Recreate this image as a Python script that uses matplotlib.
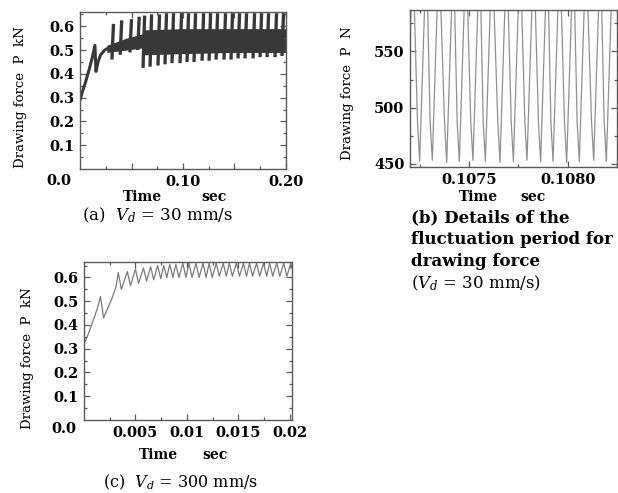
import numpy as np
import matplotlib
matplotlib.use("Agg")
import matplotlib.pyplot as plt
from matplotlib.collections import LineCollection

plt.rcParams['font.family'] = ['DejaVu Serif']
plt.rcParams['mathtext.fontset'] = 'dejavuserif'

# (a) Vd = 30 mm/s : start-up part of the force curve
ramp_t = [0.0, 0.002, 0.005, 0.009, 0.012, 0.0145, 0.0155, 0.0175, 0.020, 0.024, 0.028]
ramp_p = [0.29, 0.32, 0.36, 0.42, 0.47, 0.52, 0.41, 0.45, 0.48, 0.50, 0.51]

# dense high-frequency band (envelope of the fast oscillation)
band_t = [0.026, 0.045, 0.0624, 0.0626, 0.10, 0.15, 0.20]
band_lo = [0.49, 0.50, 0.51, 0.48, 0.485, 0.49, 0.49]
band_hi = [0.52, 0.55, 0.57, 0.585, 0.59, 0.59, 0.59]

# slow saw-tooth excursions
tooth_t = [0.031, 0.039, 0.0485, 0.056, 0.0612, 0.0680, 0.0757, 0.0825, 0.0893,
           0.0971, 0.1039, 0.1107, 0.1185, 0.1253, 0.1321, 0.1398, 0.1466, 0.1534,
           0.1602, 0.1680, 0.1748, 0.1816, 0.1893, 0.1961]
tooth_lo = [0.46, 0.48, 0.49, 0.50, 0.425, 0.43, 0.435, 0.44, 0.445, 0.445, 0.45,
            0.45, 0.455, 0.455, 0.46, 0.46, 0.46, 0.465, 0.465, 0.465, 0.47, 0.47,
            0.47, 0.475]
tooth_hi = [0.61, 0.625, 0.63, 0.64, 0.645, 0.65, 0.65, 0.655, 0.655, 0.655, 0.655,
            0.655, 0.655, 0.655, 0.655, 0.655, 0.655, 0.655, 0.655, 0.655, 0.655,
            0.655, 0.655, 0.655]

# (b) detail of the fluctuation, force in N
b_peak_t = [0.107150, 0.107215, 0.107284, 0.107348, 0.107421, 0.107485, 0.107554,
            0.107617, 0.107691, 0.107759, 0.107828, 0.107897, 0.107960, 0.108029,
            0.108093, 0.108166, 0.108230]
b_kink_t = [0.107170, 0.107239, 0.107303, 0.107376, 0.107440, 0.107509, 0.107572,
            0.107646, 0.107714, 0.107783, 0.107852, 0.107915, 0.107984, 0.108048,
            0.108121, 0.108185]
b_bot_t = [0.107181, 0.107250, 0.107314, 0.107387, 0.107451, 0.107520, 0.107583,
           0.107657, 0.107725, 0.107794, 0.107863, 0.107926, 0.107995, 0.108059,
           0.108132, 0.108196]
b_bot_p = [452, 452, 453, 451, 452, 453, 452, 451, 452, 453, 452, 452, 451, 452, 453, 452]
b_peak_p = 640
b_kink_p = 487

# (c) Vd = 300 mm/s
c_start_t = [0.0, 0.0004, 0.0009, 0.0013, 0.0016, 0.0019, 0.0023, 0.0027, 0.0031]
c_start_p = [0.32, 0.36, 0.42, 0.47, 0.52, 0.43, 0.47, 0.51, 0.56]
c_peak_t = [0.00333, 0.00421, 0.00500, 0.00578, 0.00647, 0.00715, 0.00774, 0.00833,
            0.00892, 0.00960, 0.01019, 0.01088, 0.01156, 0.01215, 0.01284, 0.01352,
            0.01411, 0.01480, 0.01548, 0.01607, 0.01676, 0.01744, 0.01803, 0.01872,
            0.01940, 0.02009]
c_peak_p = [0.62, 0.625, 0.635, 0.64, 0.645, 0.65, 0.65, 0.655, 0.655, 0.66, 0.66,
            0.66, 0.66, 0.66, 0.66, 0.66, 0.66, 0.66, 0.66, 0.66, 0.66, 0.66, 0.66,
            0.66, 0.66, 0.66]
c_trough_t = [0.00363, 0.00451, 0.00530, 0.00608, 0.00677, 0.00745, 0.00804, 0.00863,
              0.00922, 0.00990, 0.01049, 0.01118, 0.01186, 0.01245, 0.01314, 0.01382,
              0.01441, 0.01510, 0.01578, 0.01637, 0.01706, 0.01774, 0.01833, 0.01902,
              0.01970, 0.02039]
c_trough_p = [0.55, 0.565, 0.575, 0.585, 0.59, 0.595, 0.60, 0.60, 0.60, 0.60, 0.60,
              0.60, 0.60, 0.60, 0.605, 0.605, 0.605, 0.605, 0.605, 0.605, 0.605,
              0.605, 0.605, 0.605, 0.605, 0.605]

W, H = 618, 493
fig = plt.figure(figsize=(W / 100, H / 100), dpi=100)


def px_axes(left, top, right, bottom):
    return fig.add_axes([left / W, 1 - bottom / H, (right - left) / W, (bottom - top) / H])


def ftext(x, y, s, **kw):
    fig.text(x / W, 1 - y / H, s, **kw)


def style(ax):
    for sp in ax.spines.values():
        sp.set_color('#5a5a5a')
        sp.set_linewidth(1.0)
    ax.tick_params(which='both', direction='in', top=True, right=True,
                   color='#5a5a5a', labelsize=10.5, pad=4)
    ax.tick_params(which='major', length=4, width=0.9)
    ax.tick_params(which='minor', length=2.5, width=0.9)


dark = '#383838'
tick_fs = 10.5
cap_fs = 12
time_fs = 10

# ---- (a)
ax1 = px_axes(80, 12, 286, 169)
ax1.fill_between(band_t, band_lo, band_hi, color=dark, lw=0)
segs = [[(t, lo), (t + 0.0015, hi)] for t, lo, hi in zip(tooth_t, tooth_lo, tooth_hi)]
ax1.add_collection(LineCollection(segs, colors=dark, linewidths=2.4))
ax1.plot(ramp_t, ramp_p, color=dark, lw=2.2)
ax1.set_xlim(0, 0.2)
ax1.set_ylim(0, 0.66)
ax1.set_xticks([0.05, 0.10, 0.15, 0.20], labels=['', '0.10', '', '0.20'], fontweight='bold')
ax1.set_xticks(np.arange(0.025, 0.2, 0.05), minor=True)
ax1.set_yticks([0.1, 0.2, 0.3, 0.4, 0.5, 0.6],
               labels=['0.1', '0.2', '0.3', '0.4', '0.5', '0.6'], fontweight='bold')
ax1.set_yticks([0.05, 0.15, 0.25, 0.35, 0.45, 0.55, 0.65], minor=True)
style(ax1)
ftext(59, 181, '0.0', fontsize=tick_fs, fontweight='bold', ha='center', va='center')
ftext(21, 97, 'Drawing force  P  kN', fontsize=9.5, rotation=90, ha='center', va='center')
ftext(142, 197, 'Time', fontsize=time_fs, fontweight='bold', ha='center', va='center')
ftext(214, 197, 'sec', fontsize=time_fs, fontweight='bold', ha='center', va='center')
ftext(158, 215, '(a)  $V_d$ = 30 mm/s', fontsize=cap_fs, ha='center', va='center')

# ---- (b)
ax2 = px_axes(410, 10, 617, 167)
b_t = [b_peak_t[0]]
b_p = [b_peak_p]
for k in range(len(b_bot_t)):
    b_t += [b_kink_t[k], b_bot_t[k], b_peak_t[k + 1]]
    b_p += [b_kink_p, b_bot_p[k], b_peak_p]
ax2.plot(b_t, b_p, color='#909090', lw=0.9)
ax2.set_xlim(0.107201, 0.108216)
ax2.set_ylim(447, 587)
ax2.set_xticks([0.1075, 0.1080], labels=['0.1075', '0.1080'], fontweight='bold')
ax2.set_xticks([0.10725, 0.10775, 0.10825], minor=True)
ax2.set_yticks([450, 500, 550], labels=['450', '500', '550'], fontweight='bold')
ax2.set_yticks([475, 525, 575], minor=True)
style(ax2)
ftext(348, 93, 'Drawing force  P  N', fontsize=9.5, rotation=90, ha='center', va='center')
ftext(478, 197, 'Time', fontsize=time_fs, fontweight='bold', ha='center', va='center')
ftext(533, 197, 'sec', fontsize=time_fs, fontweight='bold', ha='center', va='center')
ftext(411, 218, '(b) Details of the', fontsize=cap_fs, fontweight='bold', ha='left', va='center')
ftext(411, 240, 'fluctuation period for', fontsize=cap_fs, fontweight='bold', ha='left', va='center')
ftext(411, 262, 'drawing force', fontsize=cap_fs, fontweight='bold', ha='left', va='center')
ftext(411, 283, '($V_d$ = 30 mm/s)', fontsize=cap_fs, ha='left', va='center')

# ---- (c)
ax3 = px_axes(84, 262, 292, 420)
c_t = list(c_start_t)
c_p = list(c_start_p)
for tp, pp, tt, pt in zip(c_peak_t, c_peak_p, c_trough_t, c_trough_p):
    c_t += [tp, tt]
    c_p += [pp, pt]
ax3.plot(c_t, c_p, color='#7a7a7a', lw=0.9)
ax3.set_xlim(0, 0.0202)
ax3.set_ylim(0, 0.665)
ax3.set_xticks([0.005, 0.01, 0.015, 0.02], labels=['0.005', '0.01', '0.015', '0.02'],
               fontweight='bold')
ax3.set_xticks([0.0025, 0.0075, 0.0125, 0.0175], minor=True)
ax3.set_yticks([0.1, 0.2, 0.3, 0.4, 0.5, 0.6],
               labels=['0.1', '0.2', '0.3', '0.4', '0.5', '0.6'], fontweight='bold')
ax3.set_yticks([0.05, 0.15, 0.25, 0.35, 0.45, 0.55, 0.65], minor=True)
style(ax3)
ftext(64, 429, '0.0', fontsize=tick_fs, fontweight='bold', ha='center', va='center')
ftext(28, 358, 'Drawing force  P  kN', fontsize=9.5, rotation=90, ha='center', va='center')
ftext(158, 455, 'Time', fontsize=time_fs, fontweight='bold', ha='center', va='center')
ftext(215, 455, 'sec', fontsize=time_fs, fontweight='bold', ha='center', va='center')
ftext(181, 482, '(c)  $V_d$ = 300 mm/s', fontsize=11.5, ha='center', va='center')

fig.savefig('out.png', dpi=100)
